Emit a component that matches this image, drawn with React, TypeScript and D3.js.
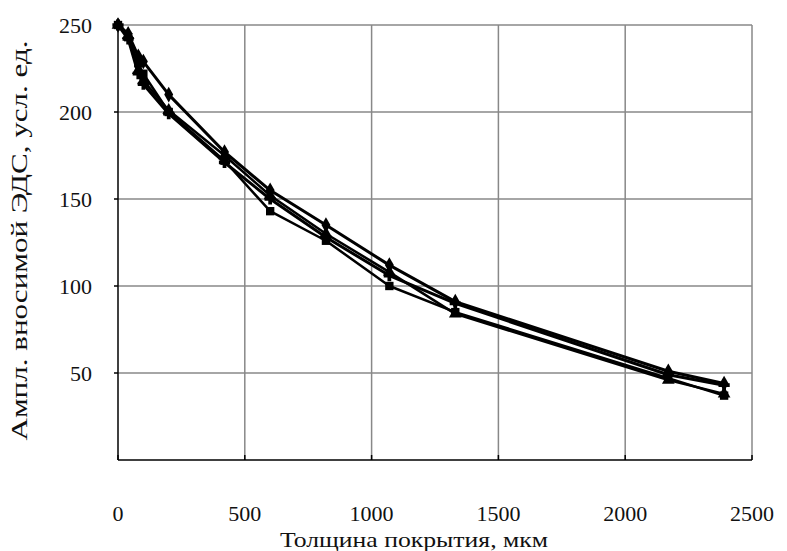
import React from 'react';
import * as d3 from 'd3';

// thickness, um
const thickness = [0, 40, 80, 100, 200, 420, 600, 820, 1070, 1330, 2170, 2390];

const series1 = [250, 245, 232, 229, 210, 177, 155, 135, 112, 91, 51, 44];
const series2 = [250, 243, 228, 222, 200, 172, 143, 126, 100, 85, 47, 37];
const series3 = [250, 244, 224, 218, 201, 175, 152, 130, 108, 84, 46, 38];
const series4 = [250, 242, 222, 216, 199, 171, 150, 128, 106, 90, 49, 43];

const xTicks = [0, 500, 1000, 1500, 2000, 2500];
const yTicks = [50, 100, 150, 200, 250];

const xTitle = 'Толщина покрытия, мкм';
const yTitle = 'Ампл. вносимой ЭДС, усл. ед.';

const Width = 787;
const Height = 551;
const margin = { top: 25, right: 35, bottom: 91, left: 118 };
const chartWidth = Width - margin.left - margin.right;
const chartHeight = Height - margin.top - margin.bottom;

const font = '"Liberation Serif", "Times New Roman", serif';

const allSeries = [
  { values: series1, symbol: d3.symbolDiamond, width: 3 },
  { values: series2, symbol: d3.symbolSquare, width: 2.5 },
  { values: series3, symbol: d3.symbolTriangle, width: 2.5 },
  { values: series4, symbol: d3.symbolCross, width: 3 },
];

const App = () => {
  const xScale = d3.scaleLinear().domain([0, 2500]).range([0, chartWidth]);
  const yScale = d3.scaleLinear().domain([0, 250]).range([chartHeight, 0]);

  const line = d3
    .line<[number, number]>()
    .x((d) => xScale(d[0]))
    .y((d) => yScale(d[1]));

  return (
    <div style={{ position: 'absolute', left: 0, top: 0 }}>
      <svg width={Width} height={Height} style={{ display: 'block', background: '#fff' }}>
        <g transform={`translate(${margin.left}, ${margin.top})`}>
          {/* grid */}
          {yTicks.map((t) => (
            <line key={'gy' + t} x1={0} x2={chartWidth} y1={yScale(t)} y2={yScale(t)} stroke="#888" strokeWidth={1.5} />
          ))}
          {xTicks.slice(1).map((t) => (
            <line key={'gx' + t} x1={xScale(t)} x2={xScale(t)} y1={0} y2={chartHeight} stroke="#888" strokeWidth={1.5} />
          ))}

          {/* axes */}
          <line x1={0} x2={0} y1={0} y2={chartHeight} stroke="#000" strokeWidth={1.5} />
          <line x1={0} x2={chartWidth} y1={chartHeight} y2={chartHeight} stroke="#000" strokeWidth={1.5} />
          {yTicks.map((t) => (
            <line key={'ty' + t} x1={-4} x2={0} y1={yScale(t)} y2={yScale(t)} stroke="#000" strokeWidth={1.5} />
          ))}
          {xTicks.map((t) => (
            <line key={'tx' + t} x1={xScale(t)} x2={xScale(t)} y1={chartHeight - 5} y2={chartHeight} stroke="#000" strokeWidth={1.5} />
          ))}

          {/* series */}
          {allSeries.map((s, i) => {
            const pts = thickness.map((x, j) => [x, s.values[j]] as [number, number]);
            return (
              <g key={'s' + i}>
                <path d={line(pts) || ''} fill="none" stroke="#000" strokeWidth={s.width} strokeLinejoin="round" />
                {pts.map((p, j) => (
                  <path
                    key={j}
                    transform={`translate(${xScale(p[0])}, ${yScale(p[1])})`}
                    d={d3.symbol().type(s.symbol).size(70)() || ''}
                    fill="#000"
                  />
                ))}
              </g>
            );
          })}

          {/* tick labels */}
          {yTicks.map((t) => (
            <text key={'ly' + t} x={-26} y={yScale(t)} dy="0.35em" textAnchor="end" fontFamily={font} fontSize={22} fill="#111">
              {t}
            </text>
          ))}
          {xTicks.map((t) => (
            <text key={'lx' + t} x={xScale(t)} y={chartHeight + 61} textAnchor="middle" fontFamily={font} fontSize={22} fill="#111">
              {t}
            </text>
          ))}

          <text x={chartWidth / 2 - 21} y={chartHeight + 87} textAnchor="middle" fontFamily={font} fontSize={22} fill="#111" textLength={268} lengthAdjust="spacingAndGlyphs">
            {xTitle}
          </text>
          <text
            transform={`translate(${-91}, ${chartHeight / 2 - 2}) rotate(-90)`}
            textAnchor="middle"
            fontFamily={font}
            fontSize={23}
            fill="#111"
            textLength={400}
            lengthAdjust="spacingAndGlyphs"
          >
            {yTitle}
          </text>
        </g>
      </svg>
    </div>
  );
};

export default App;
